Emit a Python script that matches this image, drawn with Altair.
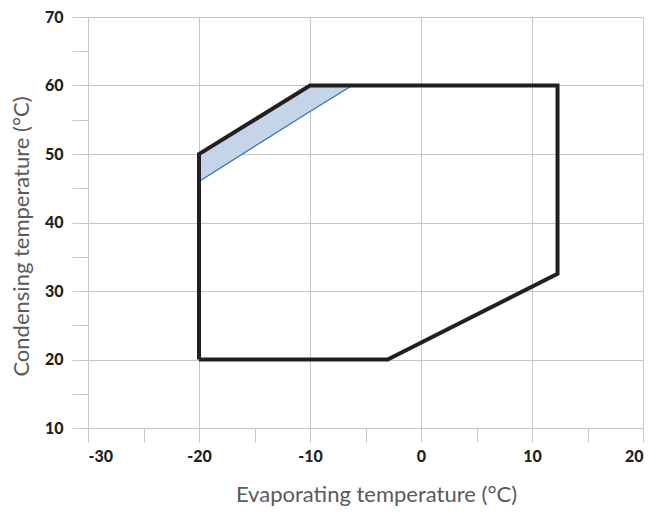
import altair as alt
import pandas as pd

# Operating envelope outline (evaporating °C, condensing °C)
outline_x = [-20, -3, 12.3, 12.3, -10, -20, -20]
outline_y = [20, 20, 32.5, 60, 60, 50, 20]

# Shaded band in the upper-left corner
band_x = [-20, -10, -6.2]
band_top = [50, 60, 60]
band_bottom = [46, 56.2, 60]

x_ticks = list(range(-30, 21, 5))
y_ticks = list(range(10, 71, 5))

outline = pd.DataFrame({"x": outline_x, "y": outline_y, "i": list(range(len(outline_x)))})
band = pd.DataFrame({"x": band_x, "top": band_top, "bottom": band_bottom})

FONT = "Lato"
grid_cond = lambda: {"condition": {"test": "datum.value % 10 !== 0", "value": 0}, "value": 1}

x_axis = alt.Axis(
    values=x_ticks,
    labelExpr="datum.value % 10 === 0 ? '' + datum.value : ''",
    gridOpacity=grid_cond(),
    gridColor="#c6c6c6",
    tickColor="#c6c6c6",
    tickSize=14,
    domain=False,
    labelFont=FONT, labelFontSize=16, labelFontWeight=900, labelColor="#231f20",
    labelPadding=6,
    title="Evaporating temperature (°C)",
    titleFont=FONT, titleFontSize=22, titleFontWeight="normal", titleColor="#5a5a5a",
    titlePadding=20, titleX=288,
)
y_axis = alt.Axis(
    values=y_ticks,
    labelExpr="datum.value % 10 === 0 ? '' + datum.value : ''",
    gridOpacity=grid_cond(),
    gridColor="#c6c6c6",
    tickColor="#c6c6c6",
    tickSize=16,
    domain=False,
    labelFont=FONT, labelFontSize=16, labelFontWeight=900, labelColor="#231f20",
    labelPadding=9,
    title="Condensing temperature (°C)",
    titleFont=FONT, titleFontSize=22, titleFontWeight="normal", titleColor="#5a5a5a",
    titlePadding=11, titleY=219,
)

xs = alt.Scale(domain=[-30, 20], nice=False, zero=False)
ys = alt.Scale(domain=[10, 70], nice=False, zero=False)

band_area = alt.Chart(band).mark_area(color="#c5d4e8", opacity=1).encode(
    x=alt.X("x:Q", scale=xs, axis=x_axis),
    y=alt.Y("top:Q", scale=ys, axis=y_axis),
    y2="bottom:Q",
)
band_line = alt.Chart(band).mark_line(color="#2e75b6", strokeWidth=1.2).encode(
    x=alt.X("x:Q", scale=xs, axis=x_axis),
    y=alt.Y("bottom:Q", scale=ys, axis=y_axis),
)
env = alt.Chart(outline).mark_line(color="#231f20", strokeWidth=4, strokeJoin="miter").encode(
    x=alt.X("x:Q", scale=xs, axis=x_axis),
    y=alt.Y("y:Q", scale=ys, axis=y_axis),
    order="i:Q",
)

chart = alt.layer(band_area, band_line, env).properties(
    width=555, height=411,
    autosize=alt.AutoSizeParams(type="none"),
    padding={"left": 80, "top": 9, "right": 6, "bottom": 80},
).configure_view(stroke=None)

chart.save("out.html", embed_options={"renderer": "svg", "actions": False})
